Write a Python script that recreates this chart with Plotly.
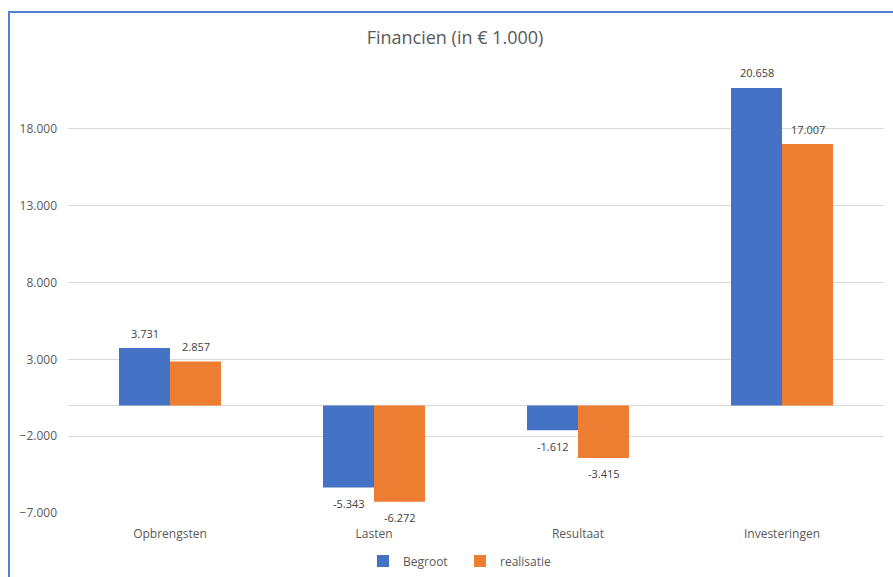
import plotly.graph_objects as go

categories = ["Opbrengsten", "Lasten", "Resultaat", "Investeringen"]
begroot = [3731, -5343, -1612, 20658]
realisatie = [2857, -6272, -3415, 17007]
tick_vals = [-7000, -2000, 3000, 8000, 13000, 18000]

W, H = 893, 577
L, R, T, B = 68, 884, 52, 513

def px_x(p):
    return (p - L) / (R - L)

def px_y(p):
    return (B - p) / (B - T)

fig = go.Figure()
fig.add_trace(go.Bar(
    x=categories, y=begroot, name="Begroot",
    marker=dict(color="#4472C4", line=dict(width=0)),
))
fig.add_trace(go.Bar(
    x=categories, y=realisatie, name="realisatie",
    marker=dict(color="#ED7D31", line=dict(width=0)),
))

def fmt(v):
    s = f"{abs(v):,}".replace(",", ".")
    return ("-" if v < 0 else "") + s

for vals, shift in ((begroot, -25.5), (realisatie, 25.5)):
    for c, v in zip(categories, vals):
        fig.add_annotation(x=c, y=v, xref="x", yref="y", text=fmt(v),
                           showarrow=False, xshift=shift,
                           yshift=15 if v >= 0 else -16,
                           font=dict(size=11, color="#404040"))

fig.update_layout(
    width=W, height=H,
    margin=dict(l=L, r=W - R, t=T, b=H - B, autoexpand=False),
    paper_bgcolor="white", plot_bgcolor="white",
    font=dict(family="Open Sans, Calibri, sans-serif", color="#595959", size=12),
    separators=",.",
    barmode="group", bargap=0.5, bargroupgap=0,
    title=dict(text="Financien (in € 1.000)", x=px_x(455), xref="paper",
               xanchor="center", y=1 - 38 / H, yanchor="middle",
               font=dict(size=18, color="#595959")),
    showlegend=True,
    legend=dict(orientation="h", x=px_x(460), xanchor="center",
                y=px_y(561), yanchor="middle", xref="paper",
                font=dict(size=12, color="#595959"), traceorder="normal",
                itemwidth=30, entrywidth=52, entrywidthmode="pixels"),
)
fig.update_yaxes(range=[-7000, 23000], tickvals=tick_vals, tickformat=",.0f",
                 showgrid=True, gridcolor="#D9D9D9", gridwidth=1,
                 zeroline=True, zerolinecolor="#D9D9D9", zerolinewidth=1,
                 showline=False, ticks="", ticklabelstandoff=10,
                 tickfont=dict(size=12, color="#595959"))
fig.update_xaxes(showline=False, ticks="", showgrid=False,
                 ticklabelstandoff=12,
                 tickfont=dict(size=12, color="#595959"))

fig.add_shape(type="rect", xref="paper", yref="paper",
              x0=px_x(9), x1=px_x(900), y0=px_y(590), y1=px_y(12),
              line=dict(color="#4F81D6", width=2), fillcolor="rgba(0,0,0,0)",
              layer="above")

fig.write_html("out.html")
